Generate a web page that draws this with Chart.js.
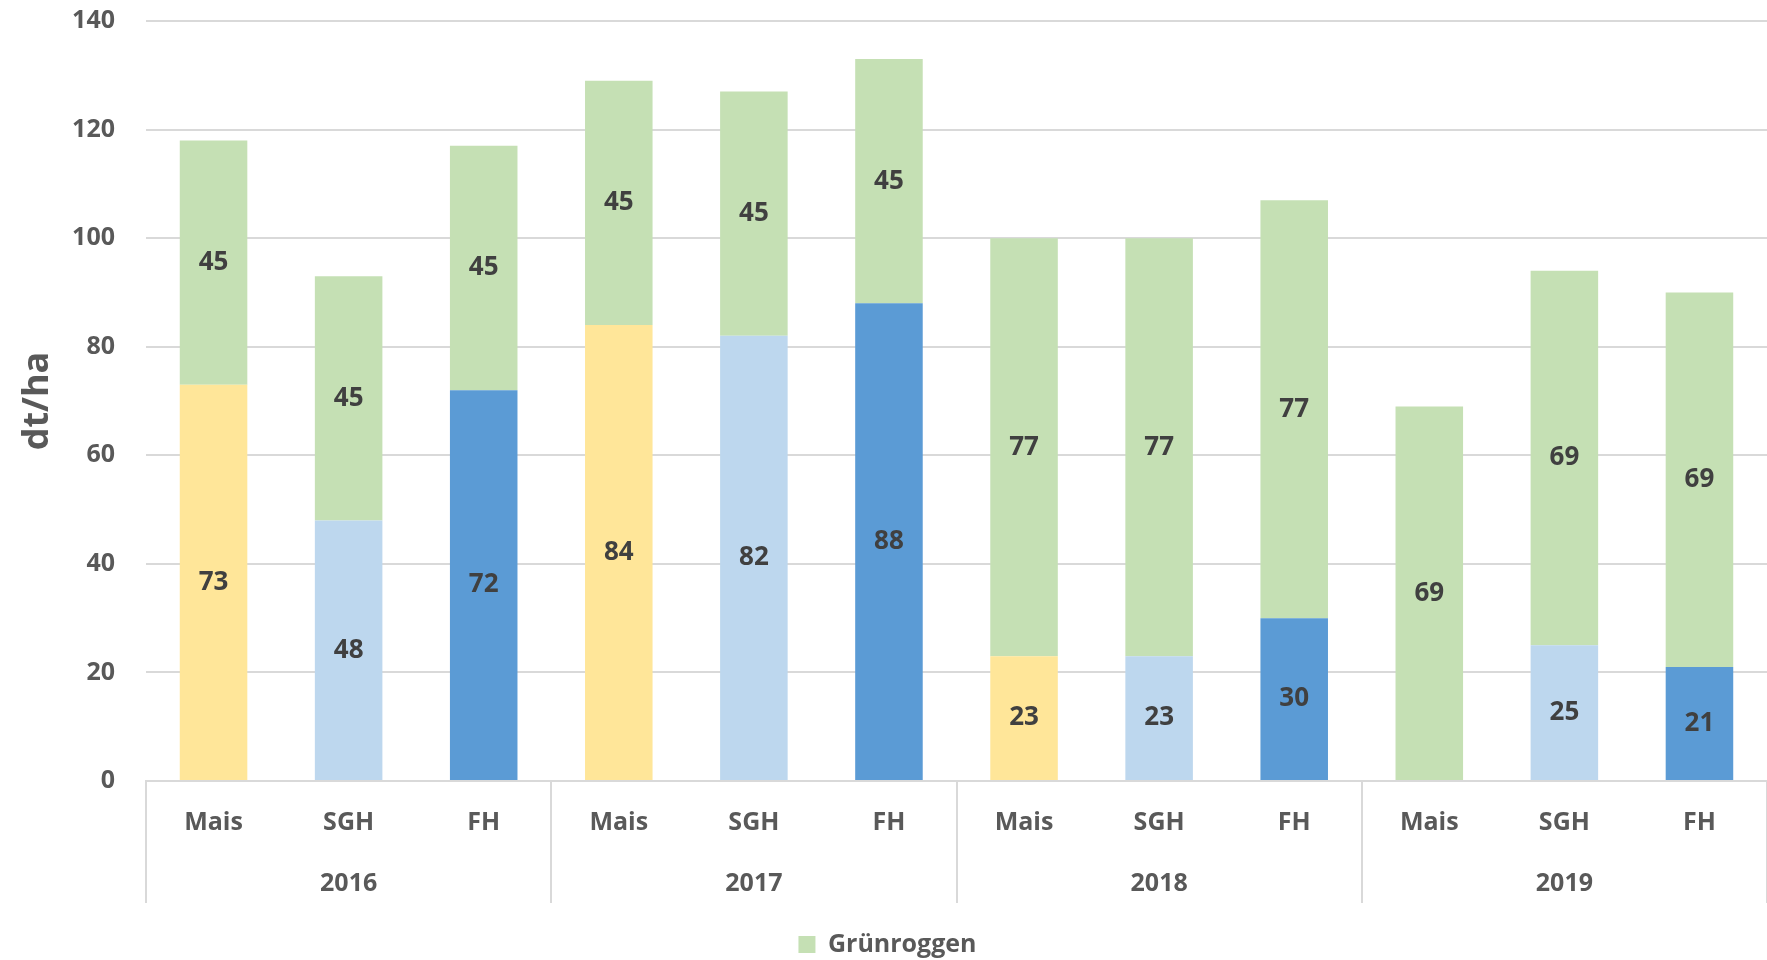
<!DOCTYPE html>
<html>
<head>
<meta charset="utf-8">
<script src="https://cdn.jsdelivr.net/npm/chart.js@4/dist/chart.umd.min.js"></script>
<style>
  html, body { margin: 0; padding: 0; background: #fff; }
  #wrap { width: 1767px; height: 960px; }
</style>
</head>
<body>
<div id="wrap"><canvas id="myChart" width="1767" height="960"></canvas></div>
<script>
// chart values
const crops = ['Mais', 'SGH', 'FH', 'Mais', 'SGH', 'FH', 'Mais', 'SGH', 'FH', 'Mais', 'SGH', 'FH'];
const years = ['2016', '2017', '2018', '2019'];
const mainCrop = [73, 48, 72, 84, 82, 88, 23, 23, 30, 0, 25, 21];
const gruenroggen = [45, 45, 45, 45, 45, 45, 77, 77, 77, 69, 69, 69];
const yTicks = [0, 20, 40, 60, 80, 100, 120, 140];

const cropColor = { 'Mais': '#FFE699', 'SGH': '#BDD7EE', 'FH': '#5B9BD5' };
const green = '#C5E0B4';
const textGrey = '#595959';
const fontFamily = '"Open Sans", Lato, sans-serif';

// value labels in the middle of each segment
const barLabels = {
    id: 'barLabels',
    afterDatasetsDraw(chart) {
        const c = chart.ctx;
        c.save();
        c.font = 'bold 26px ' + fontFamily;
        c.fillStyle = '#404040';
        c.textAlign = 'center';
        c.textBaseline = 'middle';
        chart.data.datasets.forEach((ds, i) => {
            chart.getDatasetMeta(i).data.forEach((bar, j) => {
                const v = ds.data[j];
                if (!v) return;
                c.fillText(String(v), bar.x, (bar.y + bar.base) / 2);
            });
        });
        c.restore();
    }
};

// vertical separators between the year groups
const groupLines = {
    id: 'groupLines',
    afterDraw(chart) {
        const x = chart.scales.x;
        const c = chart.ctx;
        const w = (x.right - x.left) / crops.length;
        c.save();
        c.strokeStyle = '#D9D9D9';
        c.lineWidth = 2;
        for (let k = 0; k <= crops.length; k += 3) {
            const px = Math.round(x.left + k * w);
            c.beginPath();
            c.moveTo(px, chart.chartArea.bottom);
            c.lineTo(px, chart.chartArea.bottom + 122);
            c.stroke();
        }
        c.restore();
    }
};

const ctx = document.getElementById('myChart').getContext('2d');

new Chart(ctx, {
    type: 'bar',
    data: {
        labels: crops,
        datasets: [{
            label: 'Hauptfrucht',
            data: mainCrop,
            backgroundColor: crops.map(c => cropColor[c]),
            xAxisID: 'x'
        }, {
            label: 'Grünroggen',
            data: gruenroggen,
            backgroundColor: green,
            xAxisID: 'x'
        }]
    },
    options: {
        responsive: false,
        animation: false,
        categoryPercentage: 1,
        barPercentage: 0.5,
        layout: { padding: { top: 0, left: 0, right: -8, bottom: -7 } },
        plugins: {
            tooltip: { enabled: false },
            legend: {
                position: 'bottom',
                labels: {
                    filter: item => item.datasetIndex === 1,
                    boxWidth: 17,
                    boxHeight: 17,
                    padding: 0,
                    color: textGrey,
                    font: { family: fontFamily, size: 25, weight: 'bold' }
                }
            }
        },
        scales: {
            x: {
                stacked: true,
                position: 'bottom',
                grid: { display: false },
                border: { display: true, color: '#D9D9D9', width: 2 },
                ticks: {
                    color: textGrey,
                    padding: 19,
                    font: { family: fontFamily, size: 25, weight: 'bold' },
                    maxRotation: 0
                },
                afterFit(scale) { scale.height = 60; }
            },
            x2: {
                type: 'category',
                labels: years,
                position: 'bottom',
                offset: true,
                grid: { display: false },
                border: { display: false },
                ticks: {
                    color: textGrey,
                    padding: 20,
                    font: { family: fontFamily, size: 25, weight: 'bold' }
                },
                afterFit(scale) { scale.height = 91; }
            },
            y: {
                stacked: true,
                min: 0,
                max: 140,
                afterBuildTicks(scale) { scale.ticks = yTicks.map(v => ({ value: v })); },
                grid: { color: '#D9D9D9', lineWidth: 2, drawTicks: false },
                border: { display: false },
                ticks: {
                    color: textGrey,
                    padding: 31,
                    font: { family: fontFamily, size: 25, weight: 'bold' }
                },
                title: {
                    display: true,
                    text: 'dt/ha',
                    color: textGrey,
                    font: { family: fontFamily, size: 36, weight: 'bold' },
                    padding: { top: 16, bottom: 0 }
                },
                afterFit(scale) {
                    scale.width = 146;
                    scale.paddingTop = 21;
                    scale.paddingBottom = 0;
                }
            }
        }
    },
    plugins: [barLabels, groupLines]
});
</script>
</body>
</html>
